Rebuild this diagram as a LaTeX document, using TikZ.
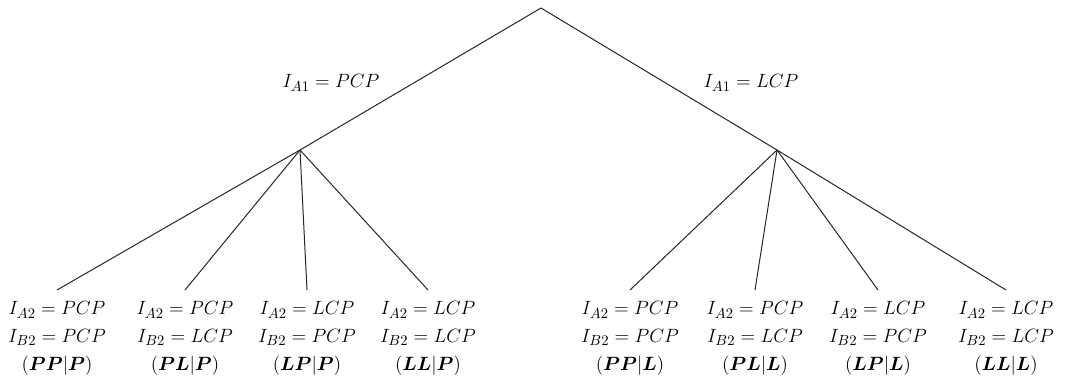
\documentclass[tikz,border=0pt]{standalone}
\usepackage{amsmath}
\usepackage{bm}
\begin{document}
\begin{tikzpicture}[x=0.75pt,y=-0.75pt,
  edge/.style={line width=0.75pt, black!85},
  leaf/.style={align=center, anchor=north, inner xsep=0pt, inner ysep=8.5pt,
    font=\fontsize{15}{20.8}\selectfont},
  branch/.style={inner sep=0pt, font=\fontsize{15}{20}\selectfont, anchor=base}]
\useasboundingbox (0,0) rectangle (1077,378);

% tree vertices
\coordinate (root) at (541,8);
\coordinate (P) at (300,150);
\coordinate (L) at (777,150);

% leaves
\node[leaf] (pp) at (57,290)  {$I_{A2}=PCP$\\$I_{B2}=PCP$\\$(\bm{PP}|\bm{P})$};
\node[leaf] (pl) at (185,290) {$I_{A2}=PCP$\\$I_{B2}=LCP$\\$(\bm{PL}|\bm{P})$};
\node[leaf] (lp) at (307,290) {$I_{A2}=LCP$\\$I_{B2}=PCP$\\$(\bm{LP}|\bm{P})$};
\node[leaf] (ll) at (428,290) {$I_{A2}=LCP$\\$I_{B2}=LCP$\\$(\bm{LL}|\bm{P})$};
\node[leaf] (ppL) at (630,290) {$I_{A2}=PCP$\\$I_{B2}=PCP$\\$(\bm{PP}|\bm{L})$};
\node[leaf] (plL) at (755,290) {$I_{A2}=PCP$\\$I_{B2}=LCP$\\$(\bm{PL}|\bm{L})$};
\node[leaf] (lpL) at (878,290) {$I_{A2}=LCP$\\$I_{B2}=PCP$\\$(\bm{LP}|\bm{L})$};
\node[leaf] (llL) at (1006,290) {$I_{A2}=LCP$\\$I_{B2}=LCP$\\$(\bm{LL}|\bm{L})$};

% branch labels
\node[branch] (lblP) at (331,88) {$I_{A1}=PCP$};
\node[branch] (lblL) at (751,88) {$I_{A1}=LCP$};

% edges
\draw[edge] (root) -- (P);
\draw[edge] (root) -- (L);
\foreach \c in {pp,pl,lp,ll} \draw[edge] (P) -- (\c.north);
\foreach \c in {ppL,plL,lpL,llL} \draw[edge] (L) -- (\c.north);
\end{tikzpicture}
\end{document}
